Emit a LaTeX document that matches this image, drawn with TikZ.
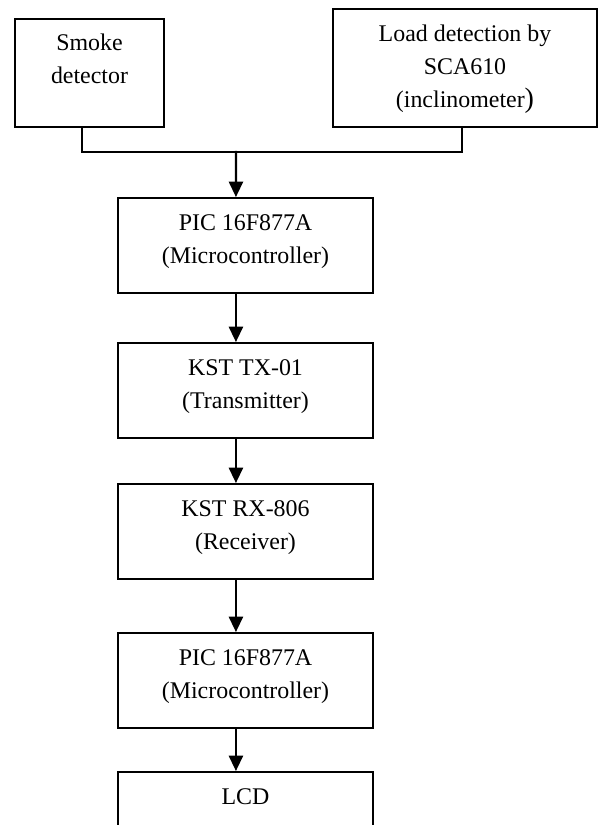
\documentclass[tikz,border=0pt]{standalone}
\usepackage{fontspec}
\setmainfont{Liberation Serif}
\usetikzlibrary{positioning, arrows.meta}

\begin{document}
\begin{tikzpicture}[x=0.025cm, y=-0.025cm, line cap=rect, line join=miter, font=\fontsize{17}{23.5}\selectfont]
	\tikzset{
		box/.style={draw, line width=1.3pt, inner sep=0pt, minimum width=6.375cm, minimum height=2.375cm},
		txt/.style={align=center, anchor=base, inner sep=0pt},
		conn/.style={line width=1.3pt},
		arr/.style={line width=1.7pt, -{Triangle[length=11pt, width=10pt]}}
	}
	\clip (0,0) rectangle (603,825);
	
	% CÁC KHỐI CẢM BIẾN
	\node[box, minimum width=3.725cm, minimum height=2.7cm] (smoke) at (89.5,73) {};
	\node[box, minimum width=6.6cm, minimum height=2.95cm] (load) at (465,68) {};
	\node[txt] (smoketxt) at ([yshift=-46.5pt]smoke.north) {Smoke\\detector};
	\node[txt] (loadtxt) at ([yshift=-70.5pt]load.north) {Load detection by\\SCA610\\(inclinometer{\fontsize{20}{20}\selectfont)}};
	
	% CÁC KHỐI XỬ LÝ
	\node[box] (pic1) at (245.5,245.5) {};
	\node[box] (tx) at (245.5,390.5) {};
	\node[box] (rx) at (245.5,531.5) {};
	\node[box] (pic2) at (245.5,680.5) {};
	\node[box] (lcd) at (245.5,819.5) {};
	
	\node[txt] (pic1txt) at ([yshift=-47pt]pic1.north) {PIC 16F877A\\(Microcontroller)};
	\node[txt] (txtxt) at ([yshift=-47pt]tx.north) {KST TX-01\\(Transmitter)};
	\node[txt] (rxtxt) at ([yshift=-47pt]rx.north) {KST RX-806\\(Receiver)};
	\node[txt] (pic2txt) at ([yshift=-47pt]pic2.north) {PIC 16F877A\\(Microcontroller)};
	\node[txt] (lcdtxt) at ([yshift=-23.5pt]lcd.north) {LCD};
	
	% ĐƯỜNG NỐI
	\coordinate (join) at (236,152);
	\draw[conn] ([xshift=-5.3pt]smoke.south) |- (join) -| ([xshift=-2.1pt]load.south);
	\draw[arr] (join) -- ([xshift=-6.8pt]pic1.north);
	\foreach \a/\b in {pic1/tx, tx/rx, rx/pic2, pic2/lcd}
		\draw[arr] ([xshift=-6.8pt]\a.south) -- ([xshift=-6.8pt]\b.north);
\end{tikzpicture}
\end{document}
